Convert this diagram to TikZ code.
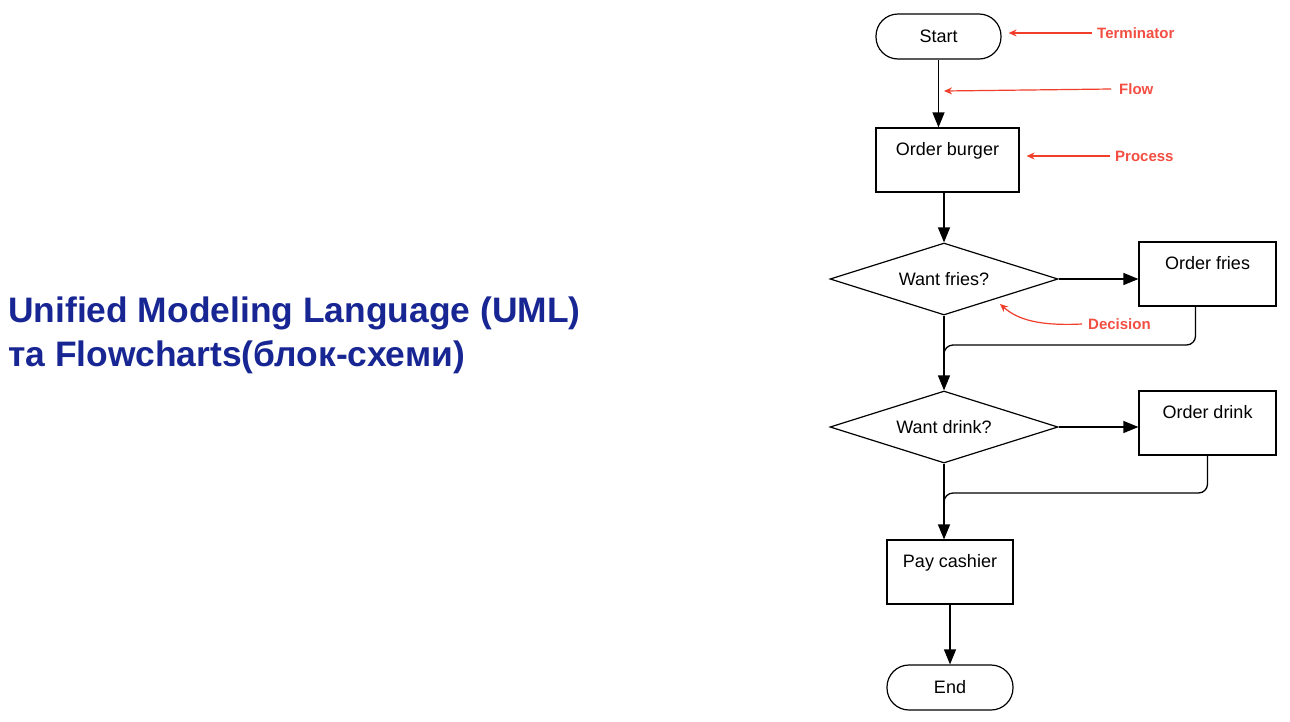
\documentclass[tikz,border=0pt]{standalone}
\usepackage{fontspec}
\setmainfont{Liberation Sans}
\usetikzlibrary{shapes.geometric,arrows.meta}
\definecolor{titleblue}{RGB}{24,38,148}
\definecolor{annred}{RGB}{240,62,42}
\definecolor{annText}{RGB}{242,78,66}
\tikzset{
  base/.style={draw=black, line width=1.2pt, font=\fontsize{18}{20}\selectfont, inner sep=0pt},
  procbox/.style={base, rectangle, minimum height=64pt, text height=13pt, text depth=22pt},
  termbox/.style={base, rectangle, rounded corners=22pt, minimum height=45pt},
  decbox/.style={base, diamond, aspect=3.15, minimum width=228pt, minimum height=72pt},
  flow/.style={line width=1.3pt, -{Triangle[length=15pt,width=12pt]}},
  ann/.style={draw=annred, line width=1.2pt, -{Stealth[length=8pt,width=7pt]}},
  annlabel/.style={text=annText, font=\bfseries\fontsize{15}{16}\selectfont, inner sep=0pt},
  titletext/.style={text=titleblue, font=\bfseries\fontsize{35.4}{40}\selectfont, inner sep=0pt, anchor=base west}
}
\begin{document}
\begin{tikzpicture}[x=1pt,y=-1pt]
\useasboundingbox (0,0) rectangle (1290,721);
% title
\node[titletext] (t1) at (8,322) {Unified Modeling Language (UML)};
\node[titletext] (t2) at (8,366) {та Flowcharts(блок-схеми)};
% nodes
\node[termbox, minimum width=125pt] (st) at (938.5,36.5) {Start};
\node[procbox, minimum width=143pt] (ob) at (947.5,160) {Order burger};
\node[decbox] (wf) at (944,279) {Want fries?};
\node[procbox, minimum width=137pt] (of) at (1207.5,274) {Order fries};
\node[decbox] (wd) at (944,427) {Want drink?};
\node[procbox, minimum width=137pt] (od) at (1207.5,423) {Order drink};
\node[procbox, minimum width=126pt] (pc) at (950,572) {Pay cashier};
\node[termbox, minimum width=126pt] (en) at (950,687.5) {End};
% connectors
\draw[flow] (st.south) -- (st.south |- ob.north);
\draw[flow] (wf.north |- ob.south) -- (wf.north);
\draw[flow] (wf.east) -- (wf.east -| of.west);
\draw[flow] (wf.south) -- (wd.north);
\coordinate (j1) at (944,345);
\draw[line width=1.3pt, rounded corners=9pt] ([xshift=-12pt]of.south) |- (j1) -- ([yshift=12pt]wd.north);
\draw[flow] (wd.east) -- (wd.east -| od.west);
\coordinate (j2) at (944,493);
\draw[flow] (wd.south) -- (j2 |- pc.north);
\draw[line width=1.3pt, rounded corners=9pt] (od.south) |- (j2) -- ([yshift=12pt]j2 |- pc.north);
\draw[flow] (pc.south) -- (en.north);
% annotations
\node[annlabel, anchor=west] (lt) at (1097,33) {Terminator};
\node[annlabel, anchor=west] (lf) at (1119,89) {Flow};
\node[annlabel, anchor=west] (lp) at (1115,156) {Process};
\node[annlabel, anchor=west] (ld) at (1088,324) {Decision};
\coordinate (ft) at (944,91);
\coordinate (dt) at (1000,304);
\draw[ann] ([xshift=-5pt]lt.west) -- ([xshift=7pt]st.east |- lt.west);
\draw[ann] ([xshift=-8pt]lf.west) -- (ft);
\draw[ann] ([xshift=-5pt]lp.west) -- ([xshift=7pt]ob.east |- lp.west);
\draw[ann] ([xshift=-6pt]ld.west) .. controls (1040,326) and (1018,320) .. (dt);
\end{tikzpicture}
\end{document}
